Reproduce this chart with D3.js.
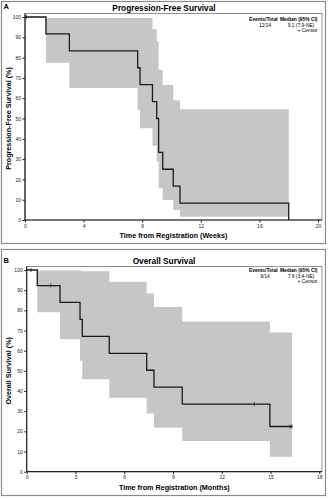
<html>
<head>
<script src="https://d3js.org/d3.v7.min.js"></script>
<style>
  body { margin: 0; background: #fff; }
  svg { font-family: "Liberation Sans", Arial, sans-serif; }
  .tick text { font-size: 5px; fill: #222; }
  .tick line, .domain { stroke: #222; }
</style>
</head>
<body>
<div id="chart"></div>
<script>
// Panel A: progression-free survival (weeks)
const pfsTime = [0, 1.43, 3.03, 7.69, 7.85, 8.7, 8.99, 9.12, 9.4, 10.12, 10.58, 18.0];
const pfsSurv = [100, 91.7, 83.3, 75, 66.7, 58.3, 50, 33.3, 25, 16.7, 8.3, 0];
const pfsBandTime = [1.43, 3.03, 7.69, 7.85, 8.7, 8.99, 9.12, 9.4, 10.12, 10.58, 18.0];
const pfsUpper = [99.5, 99.5, 99.5, 99.5, 94, 88, 74, 66.5, 59, 54.5, 54.5];
const pfsLower = [77.5, 65, 54.3, 45.2, 36.6, 28.7, 15.6, 9.9, 4.9, 1.6, 1.6];
const pfsCensor = [0.1];
const pfsXTicks = [0, 4, 8, 12, 16, 20];

// Panel B: overall survival (months)
const osTime = [0, 0.65, 2.05, 3.28, 3.42, 5.08, 7.38, 7.83, 9.57, 14.96, 16.32];
const osSurv = [100, 92.3, 83.9, 75.5, 67.1, 58.7, 50.3, 41.9, 33.5, 22.4, 22.4];
const osBandTime = [0.65, 2.05, 3.28, 3.42, 5.08, 7.38, 7.83, 9.57, 14.96, 16.32];
const osUpper = [99.7, 99.7, 99.7, 99.4, 94.2, 88.3, 81.7, 74.5, 69, 69];
const osLower = [79, 65.7, 55, 45.8, 36.7, 28.8, 21.8, 15.2, 7.4, 7.4];
const osCensor = [0.26, 1.48, 14.0, 16.2, 16.32];
const osXTicks = [0, 3, 6, 9, 12, 15, 18];

const yTicks = d3.range(0, 101, 10);

const svg = d3.select('#chart').append('svg')
    .attr('width', 328)
    .attr('height', 500);

function survAt(times, surv, t) {
    let s = surv[0];
    times.forEach((tt, i) => { if (tt <= t) s = surv[i]; });
    return s;
}

function drawPanel(p) {
    const g = svg.append('g');

    // outer panel border
    g.append('rect')
        .attr('x', 1.5).attr('y', p.top + 0.5)
        .attr('width', 324).attr('height', p.height)
        .attr('fill', 'none').attr('stroke', '#8a8a8a').attr('stroke-width', 1.2);

    g.append('text')
        .attr('x', 3.5).attr('y', p.top + p.letterDy)
        .attr('font-size', 7.5).attr('font-weight', 'bold')
        .text(p.letter);

    const x = d3.scaleLinear().domain([0, p.xMax]).range([p.x0, p.x1]);
    const y = d3.scaleLinear().domain([0, 100]).range([p.y0, p.y100]);

    // plot frame
    g.append('rect')
        .attr('x', p.x0).attr('y', p.frameTop)
        .attr('width', 322 - p.x0).attr('height', p.y0 - p.frameTop)
        .attr('fill', 'none').attr('stroke', '#777').attr('stroke-width', 0.8);

    g.append('text')
        .attr('x', 164).attr('y', p.titleY)
        .attr('text-anchor', 'middle')
        .attr('font-size', 8.3).attr('font-weight', 'bold')
        .text(p.title);

    // confidence band
    const band = p.bandTime.map((t, i) => ({ t: t, lo: p.lower[i], hi: p.upper[i] }));
    g.append('path')
        .datum(band)
        .attr('fill', '#c6c6c6')
        .attr('d', d3.area()
            .curve(d3.curveStepAfter)
            .x(d => x(d.t))
            .y0(d => y(d.lo))
            .y1(d => y(d.hi)));

    // survival step line
    const pts = p.time.map((t, i) => ({ t: t, s: p.surv[i] }));
    g.append('path')
        .datum(pts)
        .attr('fill', 'none')
        .attr('stroke', '#1a1a1a')
        .attr('stroke-width', 1.3)
        .attr('d', d3.line()
            .curve(d3.curveStepAfter)
            .x(d => x(d.t))
            .y(d => y(d.s)));

    // censor marks
    g.selectAll('.censor')
        .data(p.censor)
        .enter()
        .append('line')
        .attr('x1', d => x(d)).attr('x2', d => x(d))
        .attr('y1', d => y(survAt(p.time, p.surv, d)) - 2)
        .attr('y2', d => y(survAt(p.time, p.surv, d)) + 2)
        .attr('stroke', '#1a1a1a').attr('stroke-width', 0.8);

    // axes
    const xAxis = g.append('g')
        .attr('transform', `translate(0,${p.y0})`)
        .call(d3.axisBottom(x).tickValues(p.xTicks).tickSize(2.5).tickPadding(1.5));
    xAxis.select('.domain').attr('d', `M${p.x0},0H322`).attr('stroke-width', 1.2);

    const yAxis = g.append('g')
        .attr('transform', `translate(${p.x0},0)`)
        .call(d3.axisLeft(y).tickValues(yTicks).tickSize(2.5).tickPadding(1.5));
    yAxis.select('.domain').attr('d', `M0,${p.y0}V${p.frameTop}`).attr('stroke-width', 1.2);

    g.append('text')
        .attr('x', (p.x0 + 322) / 2).attr('y', p.y0 + 18)
        .attr('text-anchor', 'middle')
        .attr('font-size', 7.2).attr('font-weight', 'bold')
        .text(p.xLabel);

    g.append('text')
        .attr('transform', 'rotate(-90)')
        .attr('x', -(p.y0 + p.y100) / 2).attr('y', 10.5)
        .attr('text-anchor', 'middle')
        .attr('font-size', 7.2).attr('font-weight', 'bold')
        .text(p.yLabel);

    // legend
    const ly = p.legendY;
    g.append('text').attr('x', 249).attr('y', ly)
        .attr('font-size', 4.9).attr('font-weight', 'bold')
        .text('Events/Total');
    g.append('text').attr('x', 317.5).attr('y', ly)
        .attr('text-anchor', 'end').attr('font-size', 4.9).attr('font-weight', 'bold')
        .text('Median (95% CI)');
    g.append('text').attr('x', 265).attr('y', ly + 5.6)
        .attr('text-anchor', 'middle').attr('font-size', 4.9)
        .text(p.events);
    g.append('text').attr('x', 301).attr('y', ly + 5.6)
        .attr('text-anchor', 'middle').attr('font-size', 4.9)
        .text(p.median);
    g.append('text').attr('x', 317.5).attr('y', ly + 11.2)
        .attr('text-anchor', 'end').attr('font-size', 4.9)
        .text('+  Censor');
}

drawPanel({
    top: 1, height: 242, letter: 'A', letterDy: 7.5, titleY: 11,
    title: 'Progression-Free Survival',
    x0: 25, x1: 318, xMax: 20, y0: 220, y100: 17, frameTop: 13.5, legendY: 21,
    time: pfsTime, surv: pfsSurv, bandTime: pfsBandTime, upper: pfsUpper, lower: pfsLower,
    censor: pfsCensor, xTicks: pfsXTicks,
    xLabel: 'Time from Registration (Weeks)', yLabel: 'Progression-Free Survival (%)',
    events: '12/14', median: '9.1 (7.9-NE)'
});

drawPanel({
    top: 249, height: 246, letter: 'B', letterDy: 13.5, titleY: 264,
    title: 'Overall Survival',
    x0: 26.7, x1: 319.3, xMax: 18, y0: 471.7, y100: 270, frameTop: 266.5, legendY: 272,
    time: osTime, surv: osSurv, bandTime: osBandTime, upper: osUpper, lower: osLower,
    censor: osCensor, xTicks: osXTicks,
    xLabel: 'Time from Registration (Months)', yLabel: 'Overall Survival (%)',
    events: '9/14', median: '7.9 (3.4-NE)'
});
</script>
</body>
</html>
